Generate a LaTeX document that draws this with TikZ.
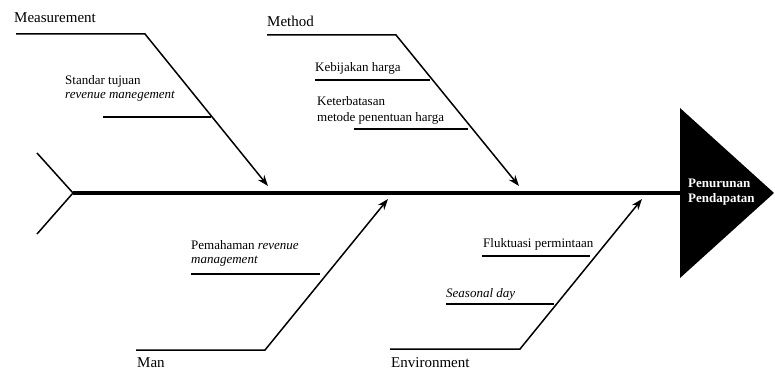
\documentclass[tikz,border=0pt]{standalone}
\usepackage{fontspec}
\setmainfont{Liberation Serif}
\usetikzlibrary{arrows.meta}
\begin{document}
\begin{tikzpicture}[x=1pt,y=-1pt,
  cat/.style={anchor=base west,inner sep=0pt,font=\fontsize{15}{17}\selectfont},
  sub/.style={anchor=base west,inner sep=0pt,font=\fontsize{13}{15}\selectfont},
  bone/.style={line width=1.5pt,-{Stealth[length=11pt,width=8pt]}},
  rib/.style={line width=1.3pt},
  spine/.style={line width=4pt}]
\useasboundingbox (0,0) rectangle (775,371);
% head
\coordinate (h1) at (680,108);
\coordinate (h2) at (774,193);
\coordinate (h3) at (680,278);
\fill (h1) -- (h2) -- (h3) -- cycle;
\node[align=left,text=white,font=\bfseries\fontsize{13}{15}\selectfont,inner sep=0pt,anchor=west] (head) at (688,192) {Penurunan\\Pendapatan};
% spine and tail
\coordinate (tail) at (73,193);
\coordinate (spineend) at (681,193);
\coordinate (t1) at (37,153);
\coordinate (t2) at (37,234);
\draw[spine] (tail) -- (spineend);
\draw[line width=1.5pt] (t1) -- (tail) -- (t2);
% Measurement
\node[cat] (meas) at (14,23) {Measurement};
\coordinate (m0) at (16,34);
\coordinate (m1) at (145,34);
\coordinate (m2) at (268,186);
\draw[bone] (m0) -- (m1) -- (m2);
\node[sub] (m3) at (65,85) {Standar tujuan};
\node[sub] (m4) at (65,99) {\itshape revenue manegement};
\coordinate (m5) at (103,117);
\coordinate (m6) at (211,117);
\draw[rib] (m5) -- (m6);
% Method
\node[cat] (meth) at (267,26.5) {Method};
\coordinate (d0) at (267,35);
\coordinate (d1) at (396,35);
\coordinate (d2) at (519,186);
\draw[bone] (d0) -- (d1) -- (d2);
\node[sub] (d3) at (315,72) {Kebijakan harga};
\coordinate (d4) at (315,80);
\coordinate (d5) at (430,80);
\draw[rib] (d4) -- (d5);
\node[sub] (d6) at (317,106) {Keterbatasan};
\node[sub] (d7) at (317,122) {metode penentuan harga};
\coordinate (d8) at (354,129);
\coordinate (d9) at (468,129);
\draw[rib] (d8) -- (d9);
% Man
\node[cat] (man) at (137,367.5) {Man};
\coordinate (a0) at (136,350);
\coordinate (a1) at (265,350);
\coordinate (a2) at (388,199);
\draw[bone] (a0) -- (a1) -- (a2);
\node[sub] (a3) at (191,249) {Pemahaman \textit{revenue}};
\node[sub] (a4) at (191,263) {\itshape management};
\coordinate (a5) at (191,274);
\coordinate (a6) at (320,274);
\draw[rib] (a5) -- (a6);
% Environment
\node[cat] (env) at (391,367.5) {Environment};
\coordinate (e0) at (390,349);
\coordinate (e1) at (520,349);
\coordinate (e2) at (642,199);
\draw[bone] (e0) -- (e1) -- (e2);
\node[sub] (e3) at (483,247) {Fluktuasi permintaan};
\coordinate (e4) at (482,256);
\coordinate (e5) at (590,256);
\draw[rib] (e4) -- (e5);
\node[sub] (e6) at (446,297) {\itshape Seasonal day};
\coordinate (e7) at (446,304);
\coordinate (e8) at (554,304);
\draw[rib] (e7) -- (e8);
\end{tikzpicture}
\end{document}
